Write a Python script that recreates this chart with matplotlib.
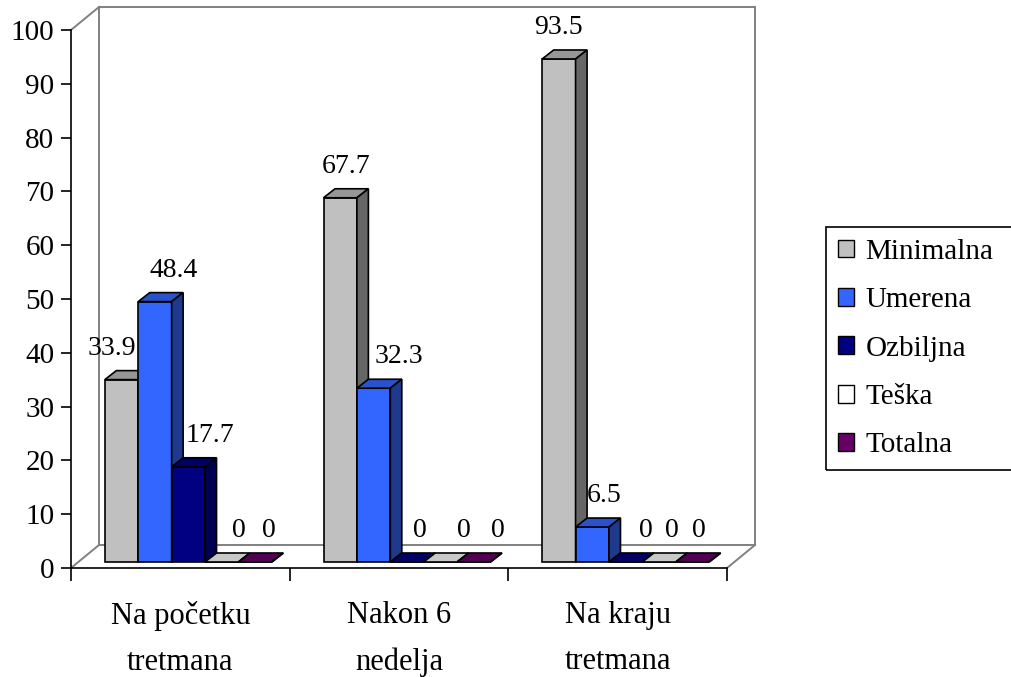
import numpy as np
import matplotlib.pyplot as plt
from matplotlib.patches import Polygon, Patch, Rectangle

plt.rcParams['font.family'] = ['Liberation Serif', 'DejaVu Serif']

categories = ['Na početku\ntretmana', 'Nakon 6\nnedelja', 'Na kraju\ntretmana']
series = ['Minimalna', 'Umerena', 'Ozbiljna', 'Teška', 'Totalna']
minimalna = [33.9, 67.7, 93.5]
umerena = [48.4, 32.3, 6.5]
ozbiljna = [17.7, 0, 0]
teska = [0, 0, 0]
totalna = [0, 0, 0]
values = [minimalna, umerena, ozbiljna, teska, totalna]

# face colours: front, top, right side
c_front = ['#C0C0C0', '#3366FF', '#000080', '#FFFFFF', '#660066']
c_top = ['#969696', '#2952CC', '#000066', '#C8C8C8', '#520052']
c_side = ['#666666', '#1F3A8C', '#000050', '#999999', '#3D003D']

# horizontal nudge of each value label (px), per series / category
label_dx = [[-10, 6, 0], [19, 25, 12], [22, 13, 20], [17, 23, 13], [14, 24, 6]]

W, H = 1011, 677
fig = plt.figure(figsize=(W / 100, H / 100), dpi=100)
x0, x1, y0, y1 = 71, 727, 568, 30
ax = fig.add_axes([x0 / W, 1 - y0 / H, (x1 - x0) / W, (y0 - y1) / H])
ax.set_xlim(0, 3)
ax.set_ylim(0, 100)
sx = (x1 - x0) / 3.0
sy = (y0 - y1) / 100.0

def px(dx, dy):
    return dx / sx, dy / sy

# back wall and floor outline
wdx, wdy = px(28, 23)
wall = '#808080'
lines = [
    [(wdx, wdy), (wdx, 100 + wdy)],
    [(wdx, 100 + wdy), (3 + wdx, 100 + wdy)],
    [(3 + wdx, wdy), (3 + wdx, 100 + wdy)],
    [(wdx, wdy), (3 + wdx, wdy)],
    [(0, 100), (wdx, 100 + wdy)],
    [(0, 0), (wdx, wdy)],
    [(3, 0), (3 + wdx, wdy)],
]
for seg in lines:
    xs, ys = zip(*seg)
    ax.plot(xs, ys, color=wall, lw=1.4, clip_on=False, zorder=1)

# 3D bars
bsx, bsy = px(8, 6)
ddx, ddy = px(11.5, 9)
bw = 33.4 / sx
z = 2
for i in range(len(categories)):
    for j, vals in enumerate(values):
        v = vals[i]
        xl = i + 0.5 - 2.5 * bw + j * bw + bsx
        b = bsy
        faces = [
            ([(xl, b), (xl + bw, b), (xl + bw, b + v), (xl, b + v)], c_front[j]),
            ([(xl, b + v), (xl + bw, b + v), (xl + bw + ddx, b + v + ddy),
              (xl + ddx, b + v + ddy)], c_top[j]),
            ([(xl + bw, b), (xl + bw + ddx, b + ddy), (xl + bw + ddx, b + v + ddy),
              (xl + bw, b + v)], c_side[j]),
        ]
        for pts, col in faces:
            ax.add_patch(Polygon(pts, closed=True, facecolor=col, edgecolor='black',
                                 lw=1.2, joinstyle='miter', clip_on=False, zorder=z))
        z += 0.01
        lx = xl + bw / 2 + label_dx[j][i] / sx
        ly = b + v + ddy + 10 / sy
        ax.text(lx, ly, f'{v:g}', ha='center', va='bottom', fontsize=20, zorder=10)

# axes
for s in ['top', 'right']:
    ax.spines[s].set_visible(False)
for s in ['left', 'bottom']:
    ax.spines[s].set_color('black')
    ax.spines[s].set_linewidth(1.2)
ax.set_yticks(np.arange(0, 101, 10))
ax.tick_params(axis='y', direction='out', length=7, width=1.2, pad=5, labelsize=21)
ax.set_xticks([0, 1, 2, 3])
ax.set_xticklabels([])
ax.tick_params(axis='x', which='major', direction='out', length=9, width=1.2)
ax.set_xticks([0.5, 1.5, 2.5], minor=True)
ax.set_xticklabels(categories, minor=True, fontsize=22, linespacing=1.75)
ax.tick_params(axis='x', which='minor', length=0, pad=24)
ax.patch.set_visible(False)

# legend; its box runs past the right edge of the figure
handles = [Patch(facecolor=c, edgecolor='black', lw=1) for c in c_front]
fig.legend(handles, series, loc='upper left', bbox_to_anchor=(826 / W, 1 - 227 / H),
           fontsize=21, frameon=False, borderpad=0.4,
           handlelength=0.55, handleheight=0.55, handletextpad=0.4,
           labelspacing=0.77, borderaxespad=0)
fig.add_artist(Rectangle((826 / W, 1 - 470 / H), 230 / W, 243 / H,
                         transform=fig.transFigure, facecolor='none',
                         edgecolor='black', lw=1.2))

fig.savefig('out.png', dpi=100)
